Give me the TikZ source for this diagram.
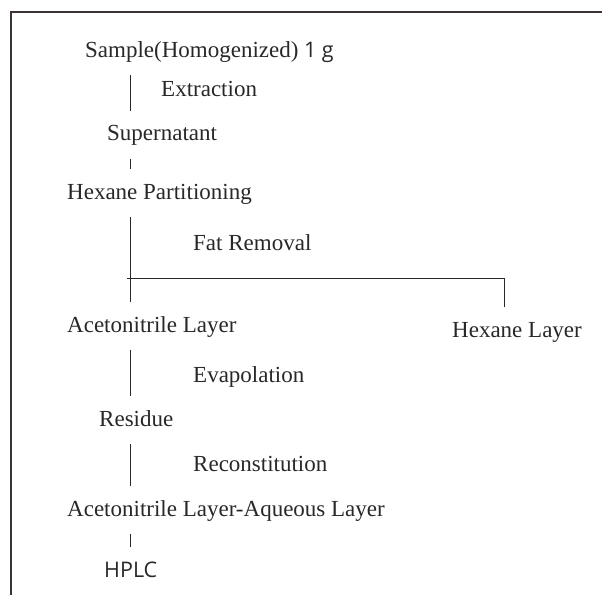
\documentclass[tikz,border=0pt]{standalone}
\usepackage{fontspec}
\setmainfont{Liberation Serif}
\newfontfamily\labelsans{Open Sans}
\usepackage{tikz}
\usetikzlibrary{calc}
\definecolor{framebrown}{RGB}{60,52,50}
\definecolor{inkgray}{RGB}{40,40,40}

\begin{document}
\begin{tikzpicture}[
    x=1pt, y=-1pt,
    stage/.style={anchor=base west, inner sep=0pt, text=inkgray, font=\fontsize{23}{27}\selectfont},
    process/.style={stage},
    sanslabel/.style={font=\fontsize{21.5}{26}\labelsans},
    flowline/.style={line width=1pt, inkgray},
    frameline/.style={line width=1.3pt, framebrown},
]
\useasboundingbox (0,0) rectangle (602,595);

% === Open frame ===
\draw[frameline] (11,595) -- (11,12) -- (602,12);

% === Main stages ===
\node[stage] (sample)  at (85,57.3)  {Sample(Homogenized){\labelsans\fontsize{21.5}{26}\selectfont\ 1 g}};
\node[stage] (super)   at (107,140.7) {Supernatant};
\node[stage] (hexpart) at (67,199)   {Hexane Partitioning};
\node[stage] (acet)    at (67,332)   {Acetonitrile Layer};
\node[stage] (hexlayer) at (452,337) {Hexane Layer};
\node[stage] (residue) at (99,426)   {Residue};
\node[stage] (acetaq)  at (67,516)   {Acetonitrile Layer-Aqueous Layer};
\node[stage, sanslabel] (hplc) at (104,577) {HPLC};

% === Process steps ===
\node[process] (extr)  at (161,96)   {Extraction};
\node[process] (fat)   at (193,250.7) {Fat Removal};
\node[process] (evap)  at (193,382.7) {Evapolation};
\node[process] (recon) at (193,471)  {Reconstitution};

% === Spine connectors ===
\coordinate (spine) at (130,0);
\foreach \a/\b in {sample/super, super/hexpart, hexpart/acet, acet/residue, residue/acetaq, acetaq/hplc}{
    \draw[flowline] ($(spine |- \a.base)+(0,18)$) -- ($(spine |- \b.base)+(0,-30)$);
}

% === Split to hexane layer ===
\coordinate (split) at (127,278);
\coordinate (fork) at (504,278);
\draw[flowline] (split) -- (fork) -- ($(fork |- hexlayer.base)+(0,-30)$);

\end{tikzpicture}
\end{document}
